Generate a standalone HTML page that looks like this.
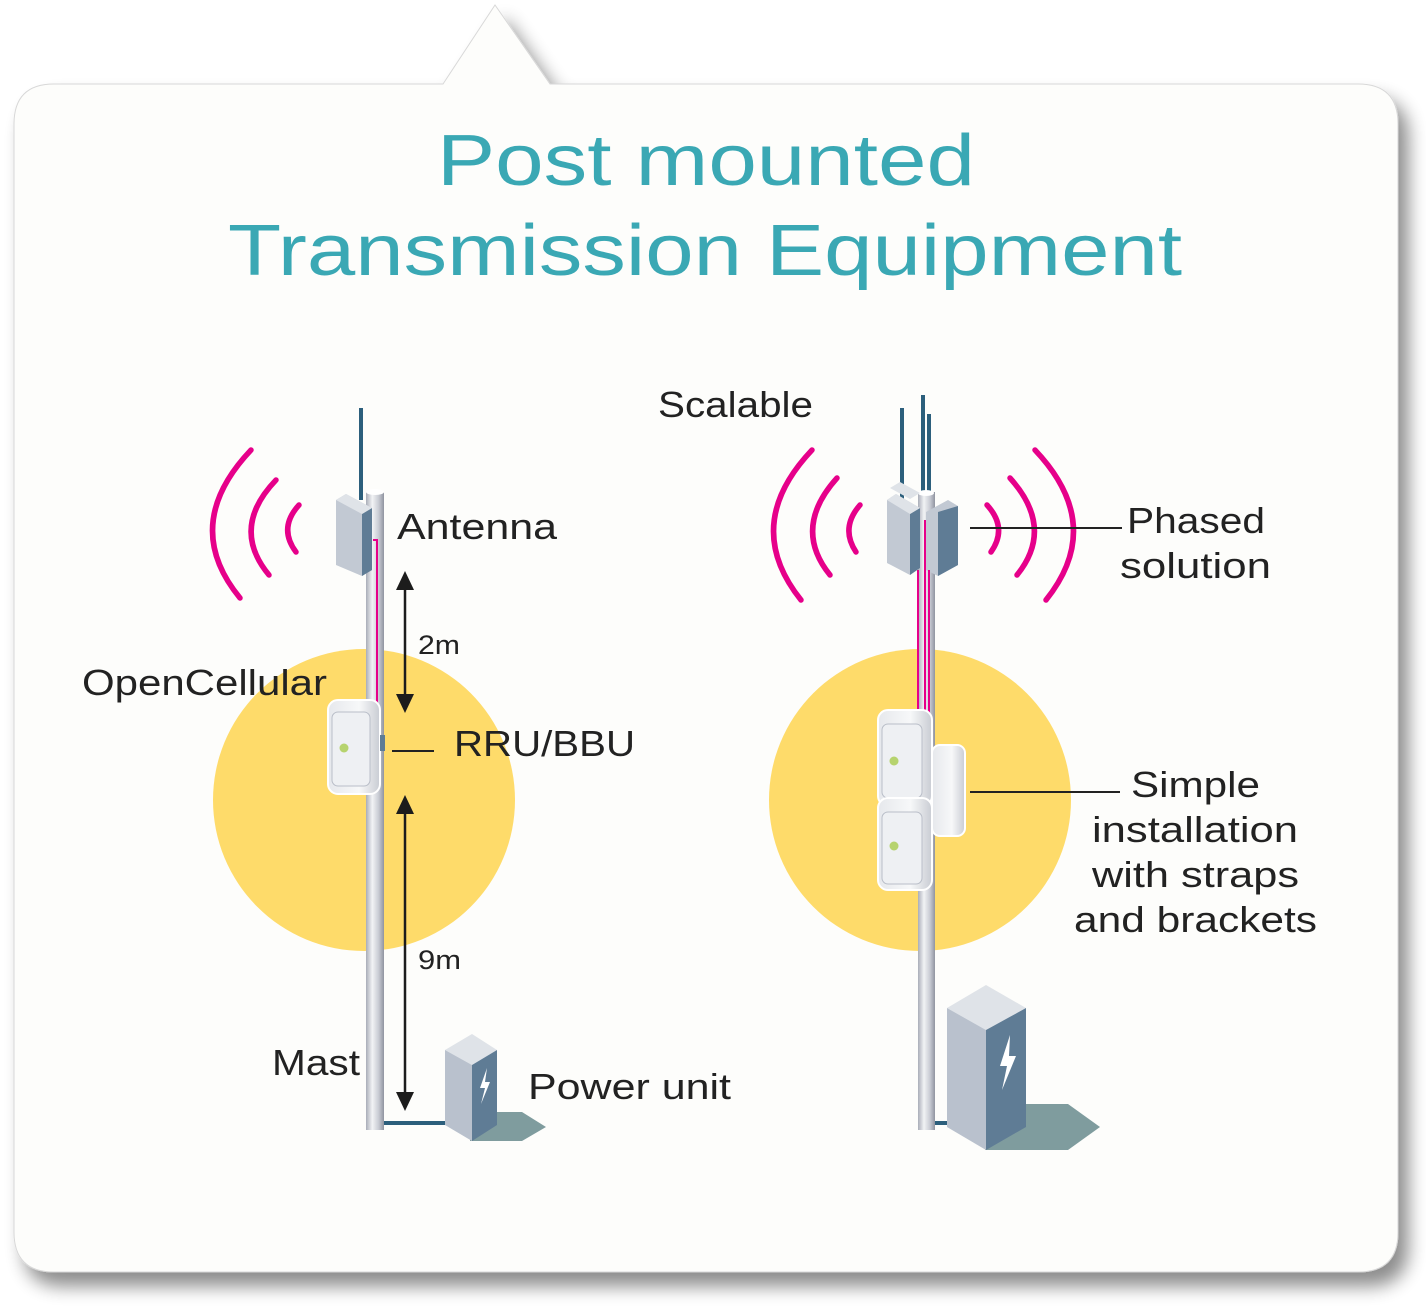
<!DOCTYPE html>
<html><head><meta charset="utf-8"><style>
html,body{margin:0;padding:0;background:#fff;}
svg{display:block;}
text{font-family:"Liberation Sans",sans-serif;}
</style></head><body>
<svg width="1426" height="1309" viewBox="0 0 1426 1309" xmlns="http://www.w3.org/2000/svg">
<defs>
<filter id="sh" x="-5%" y="-5%" width="115%" height="115%">
<feGaussianBlur in="SourceAlpha" stdDeviation="9"/>
<feOffset dx="10" dy="14"/>
<feComponentTransfer><feFuncA type="linear" slope="0.45"/></feComponentTransfer>
<feMerge><feMergeNode/><feMergeNode in="SourceGraphic"/></feMerge>
</filter>
<linearGradient id="pole" x1="0" x2="1">
<stop offset="0" stop-color="#a9adb8"/><stop offset="0.35" stop-color="#f2f3f5"/><stop offset="0.7" stop-color="#c9ccd4"/><stop offset="1" stop-color="#9094a0"/>
</linearGradient>
<linearGradient id="unit" x1="0" x2="1">
<stop offset="0" stop-color="#e6e8ec"/><stop offset="0.6" stop-color="#f7f8f9"/><stop offset="1" stop-color="#c9ccd3"/>
</linearGradient>
</defs>
<path filter="url(#sh)" d="M54,84 L443,84 L495,5 L550,84 L1358,84 Q1398,84 1398,124 L1398,1232 Q1398,1272 1358,1272 L54,1272 Q14,1272 14,1232 L14,124 Q14,84 54,84 Z" fill="#fdfdfb" stroke="#d8d8d8" stroke-width="1"/>

<text x="437" y="185" font-size="72" fill="#3aa8b4" textLength="538" lengthAdjust="spacingAndGlyphs">Post mounted</text>
<text x="228" y="275" font-size="72" fill="#3aa8b4" textLength="954" lengthAdjust="spacingAndGlyphs">Transmission Equipment</text>

<circle cx="364" cy="800" r="151" fill="#fedb6a"/>
<circle cx="920" cy="800" r="151" fill="#fedb6a"/>

<g fill="none" stroke="#e6008a" stroke-width="5.5" stroke-linecap="round">
<path d="M251,450 Q180,525 240,598"/>
<path d="M276,480 Q230,528 269,575"/>
<path d="M299,505 Q278,528 296,552"/>
<path d="M812,450 Q741,525 801,600"/>
<path d="M837,478 Q792,528 830,575"/>
<path d="M860,505 Q840,528 856,552"/>
<path d="M1035,450 Q1106,525 1046,600"/>
<path d="M1010,478 Q1055,528 1017,575"/>
<path d="M987,505 Q1008,528 991,552"/>
</g>
<line x1="361" y1="408" x2="361" y2="500" stroke="#2c5f7c" stroke-width="4"/>
<rect x="366" y="492" width="18" height="638" fill="url(#pole)"/>
<ellipse cx="375" cy="492" rx="9" ry="3" fill="#fff"/>
<polygon points="336,500 346,494 372,508 372,570 362,576 336,565" fill="#c2c9d3"/>
<polygon points="362,514 372,508 372,570 362,576" fill="#5f7c95"/>
<polygon points="336,500 346,494 372,508 362,514" fill="#dfe3e8"/>
<polyline points="373,540 377,540 377,705" fill="none" stroke="#e6008a" stroke-width="2"/>
<rect x="328" y="700" width="52" height="94" rx="10" fill="url(#unit)" stroke="#fff" stroke-width="2"/>
<rect x="332" y="712" width="38" height="74" rx="6" fill="#eef0f3" stroke="#b9bec8" stroke-width="1"/>
<circle cx="344" cy="748" r="4.5" fill="#b6d36e"/>
<rect x="380" y="735" width="5" height="16" fill="#5f7c95"/>
<line x1="392" y1="751" x2="434" y2="751" stroke="#222" stroke-width="2"/>
<line x1="384" y1="1123" x2="446" y2="1123" stroke="#2c5f7c" stroke-width="4"/>
<polygon points="470,1112 522,1112 546,1127 522,1141 470,1141" fill="#7f9c9e"/>
<polygon points="445,1050 472,1034 497,1050 472,1065" fill="#dfe3e8"/>
<polygon points="445,1050 472,1065 472,1141 445,1125" fill="#b9c1cd"/>
<polygon points="472,1065 497,1050 497,1125 472,1141" fill="#5f7c95"/>
<polygon points="487,1068 480,1088 485,1088 481,1104 490,1082 485,1082" fill="#fff"/>

<g stroke="#1c1c1c" stroke-width="2.5">
<line x1="405" y1="588" x2="405" y2="696"/>
<line x1="405" y1="812" x2="405" y2="1094"/>
</g>
<g fill="#1c1c1c">
<polygon points="396,590 414,590 405,571"/>
<polygon points="396,694 414,694 405,713"/>
<polygon points="396,814 414,814 405,795"/>
<polygon points="396,1092 414,1092 405,1111"/>
</g>

<g stroke="#2c5f7c" stroke-width="4">
<line x1="902" y1="408" x2="902" y2="500"/>
<line x1="923" y1="395" x2="923" y2="500"/>
<line x1="929" y1="414" x2="929" y2="500"/>
</g>
<rect x="918" y="492" width="17" height="638" fill="url(#pole)"/>
<ellipse cx="926" cy="493" rx="8" ry="3" fill="#fff"/>
<polygon points="890,488 900,482 920,493 910,499" fill="#dfe3e8"/>
<polygon points="887,500 896,494 920,508 920,568 910,575 887,563" fill="#c2c9d3"/>
<polygon points="910,514 920,508 920,568 910,575" fill="#5f7c95"/>
<polygon points="887,500 896,494 920,508 910,514" fill="#dfe3e8"/>
<polygon points="926,512 948,500 958,506 958,565 938,576 926,570" fill="#c2c9d3"/>
<polygon points="938,512 958,506 958,565 938,576" fill="#5f7c95"/>
<g stroke="#e6008a" stroke-width="2">
<line x1="918" y1="570" x2="918" y2="715"/>
<line x1="925" y1="520" x2="925" y2="800"/>
<line x1="929" y1="570" x2="929" y2="715"/>
</g>
<rect x="932" y="745" width="33" height="91" rx="8" fill="url(#unit)" stroke="#fff" stroke-width="2"/>
<rect x="878" y="710" width="54" height="96" rx="10" fill="url(#unit)" stroke="#fff" stroke-width="2"/>
<rect x="882" y="724" width="40" height="74" rx="6" fill="#eef0f3" stroke="#b9bec8"/>
<circle cx="894" cy="761" r="4.5" fill="#b6d36e"/>
<rect x="878" y="798" width="54" height="92" rx="10" fill="url(#unit)" stroke="#fff" stroke-width="2"/>
<rect x="882" y="812" width="40" height="72" rx="6" fill="#eef0f3" stroke="#b9bec8"/>
<circle cx="894" cy="846" r="4.5" fill="#b6d36e"/>
<line x1="970" y1="528" x2="1122" y2="528" stroke="#222" stroke-width="2"/>
<line x1="970" y1="792" x2="1120" y2="792" stroke="#222" stroke-width="2"/>
<line x1="935" y1="1123" x2="950" y2="1123" stroke="#2c5f7c" stroke-width="4"/>
<polygon points="985,1104 1068,1104 1100,1127 1068,1150 985,1150" fill="#7f9c9e"/>
<polygon points="947,1008 986,985 1026,1008 986,1030" fill="#dfe3e8"/>
<polygon points="947,1008 986,1030 986,1150 947,1127" fill="#b9c1cd"/>
<polygon points="986,1030 1026,1008 1026,1127 986,1150" fill="#5f7c95"/>
<polygon points="1010,1035 1000,1066 1007,1066 1002,1090 1016,1056 1009,1056" fill="#fff"/>

<g font-size="36" fill="#222" lengthAdjust="spacingAndGlyphs">
<text x="397" y="539" textLength="160" lengthAdjust="spacingAndGlyphs">Antenna</text>
<text x="82" y="695" textLength="245" lengthAdjust="spacingAndGlyphs">OpenCellular</text>
<text x="454" y="756" textLength="181" lengthAdjust="spacingAndGlyphs">RRU/BBU</text>
<text x="272" y="1075" textLength="88" lengthAdjust="spacingAndGlyphs">Mast</text>
<text x="528" y="1099" textLength="203" lengthAdjust="spacingAndGlyphs">Power unit</text>
<text x="658" y="417" textLength="155" lengthAdjust="spacingAndGlyphs">Scalable</text>
<text x="1127" y="533" textLength="138" lengthAdjust="spacingAndGlyphs">Phased</text>
<text x="1120" y="578" textLength="151" lengthAdjust="spacingAndGlyphs">solution</text>
<text x="1131" y="797" textLength="129" lengthAdjust="spacingAndGlyphs">Simple</text>
<text x="1092" y="842" textLength="206" lengthAdjust="spacingAndGlyphs">installation</text>
<text x="1092" y="887" textLength="207" lengthAdjust="spacingAndGlyphs">with straps</text>
<text x="1074" y="932" textLength="243" lengthAdjust="spacingAndGlyphs">and brackets</text>
</g>
<g font-size="27" fill="#222">
<text x="418" y="654" textLength="42" lengthAdjust="spacingAndGlyphs">2m</text>
<text x="418" y="969" textLength="43" lengthAdjust="spacingAndGlyphs">9m</text>
</g>
</svg>
</body></html>
